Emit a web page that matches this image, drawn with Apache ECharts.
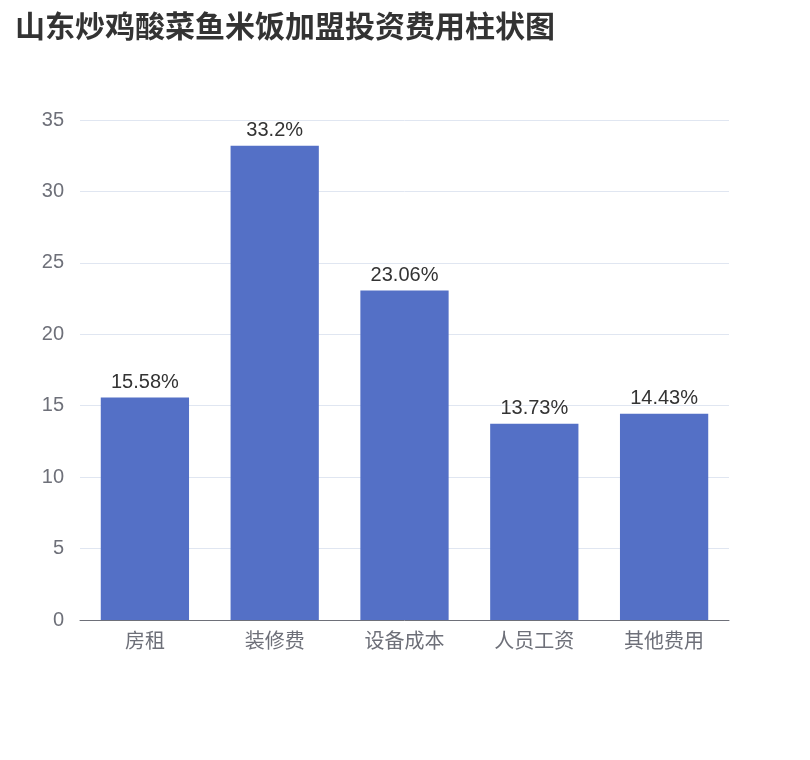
<!DOCTYPE html>
<html><head><meta charset="utf-8">
<script src="https://cdn.jsdelivr.net/npm/echarts@6/dist/echarts.min.js"></script>
<style>html,body{margin:0;padding:0;background:#fff}#c{width:810px;height:760px}</style>
</head><body><div id="c"></div>
<script>
const categories = ['房租','装修费','设备成本','人员工资','其他费用'];
const values = [15.58, 33.2, 23.06, 13.73, 14.43];
const yTicks = [0, 35, 5];
const chart = echarts.init(document.getElementById('c'));
chart.setOption({
  title: {text: '山东炒鸡酸菜鱼米饭加盟投资费用柱状图', left: 10, top: 6,
    textStyle: {fontSize: 30, fontWeight: 'bold', color: '#333', fontFamily: 'Noto Sans CJK SC'}},
  grid: {left: 80, right: 81, top: 120, bottom: 140},
  xAxis: {type: 'category', data: categories,
    axisLine: {lineStyle: {color: '#6E7079'}},
    axisTick: {lineStyle: {color: '#6E7079'}, length: 6},
    axisLabel: {fontSize: 20, color: '#6E7079', margin: 10, fontFamily: 'Noto Sans CJK SC'}},
  yAxis: {type: 'value', min: yTicks[0], max: yTicks[1], interval: yTicks[2],
    axisLabel: {fontSize: 20, color: '#6E7079', margin: 16},
    splitLine: {lineStyle: {color: '#E0E6F1'}}},
  series: [{type: 'bar', data: values, barWidth: '68%',
    itemStyle: {color: '#5470C6'},
    label: {show: true, position: 'top', fontSize: 20, color: '#333', formatter: p => p.value + '%'}}]
});
</script></body></html>
